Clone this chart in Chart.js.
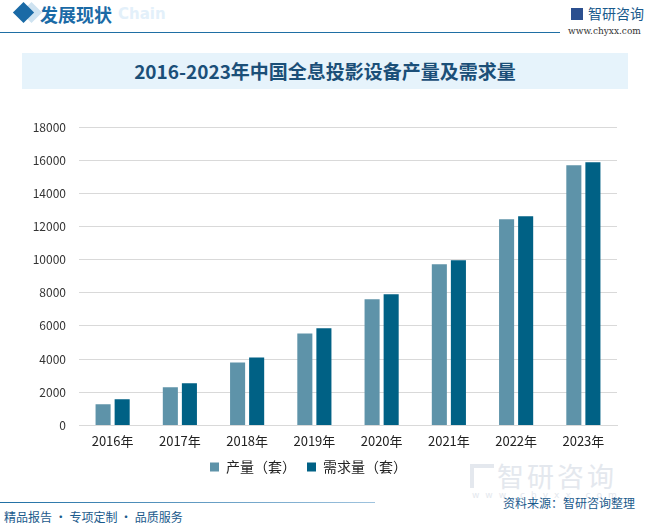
<!DOCTYPE html>
<html>
<head>
<meta charset="utf-8">
<script src="https://cdn.jsdelivr.net/npm/chart.js@4/dist/chart.umd.min.js"></script>
<style>
  body { margin: 0; width: 648px; height: 524px; background: #fff; position: relative; overflow: hidden;
         font-family: "Noto Sans CJK SC", "Noto Sans", sans-serif; }
  .abs { position: absolute; }
  #diamond { left: 16px; top: 5px; width: 15px; height: 15px; background: #1a6aa6; transform: rotate(45deg); }
  #diamond2 { left: 24px; top: 5px; width: 15px; height: 15px; background: #cfe3f1; transform: rotate(45deg); z-index: -1; }
  #head { left: 40px; top: 1px; font-size: 18px; font-weight: bold; color: #1a6aa6; }
  #headEn { left: 118px; top: 5px; font-size: 15px; font-weight: bold; color: #e3f0fa; font-family: "DejaVu Sans", sans-serif; }
  #topline { left: 0; top: 32px; width: 560px; height: 1px; background: #1f6fa4; }
  #logo { left: 571px; top: 3px; font-size: 14px; color: #1a5a8c; }
  #site { left: 568px; top: 26px; font-size: 9px; color: #333; font-family: "DejaVu Serif", serif; }
  #titleBand { left: 22px; top: 53px; width: 606px; height: 36px; background: #e6f3fb; }
  #title { left: 22px; top: 53px; width: 606px; line-height: 36px; text-align: center; font-size: 19px; font-weight: bold; color: #1b4f78; }
  #chartBox { left: 0; top: 100px; width: 648px; height: 384px; }
  #botline { left: 0; top: 502px; width: 375px; height: 1px; background: linear-gradient(to right, #1f6fa4, #9fc3de); }
  #source { left: 503px; top: 494px; font-size: 12px; color: #1a5a8c; }
  #slogan { left: 4px; top: 508px; font-size: 12px; color: #1a5a8c; }
  #wm { left: 497px; top: 456px; font-size: 27px; color: #e4e8ee; letter-spacing: 3px; }
  #wmIcon { left: 470px; top: 464px; width: 20px; height: 20px; border: 4px solid #e4e8ee; border-right: none; border-bottom: none; }
  #wm2 { left: 472px; top: 490px; font-size: 9px; color: #e4e8ee; letter-spacing: 6px; font-family: "DejaVu Sans", sans-serif; }
</style>
</head>
<body>
<div class="abs" id="diamond2"></div>
<div class="abs" id="diamond"></div>
<div class="abs" id="head">发展现状</div>
<div class="abs" id="headEn">Chain</div>
<div class="abs" id="topline"></div>
<div class="abs" id="logo"><span style="display:inline-block;width:12px;height:12px;background:#2b4f8f;margin-right:5px;vertical-align:-1px"></span>智研咨询</div>
<div class="abs" id="site">www.chyxx.com</div>
<div class="abs" id="titleBand"></div>
<div class="abs" id="title">2016-2023年中国全息投影设备产量及需求量</div>
<div class="abs" id="wmIcon"></div>
<div class="abs" id="wm">智研咨询</div>
<div class="abs" id="wm2">www.chyxx.com</div>
<div class="abs" id="chartBox"><canvas id="chart"></canvas></div>
<div class="abs" id="botline"></div>
<div class="abs" id="source">资料来源：智研咨询整理</div>
<div class="abs" id="slogan">精品报告 · 专项定制 · 品质服务</div>
<script>
var years = ['2016年', '2017年', '2018年', '2019年', '2020年', '2021年', '2022年', '2023年'];
var production = [1270, 2300, 3800, 5550, 7610, 9720, 12440, 15700];
var demand = [1570, 2540, 4100, 5860, 7910, 9960, 12620, 15880];
var seriesNames = ['产量（套）', '需求量（套）'];

drawChart();
function drawChart() {
    var ctx = document.getElementById('chart');
    Chart.defaults.font.family = '"Noto Sans CJK SC", "Noto Sans", sans-serif';
    Chart.defaults.color = '#333';
    new Chart(ctx, {
        type: 'bar',
        data: {
            labels: years,
            datasets: [{
                label: seriesNames[0],
                data: production,
                backgroundColor: '#5e93a9'
            }, {
                label: seriesNames[1],
                data: demand,
                backgroundColor: '#006185'
            }]
        },
        options: {
            responsive: true,
            maintainAspectRatio: false,
            animation: false,
            categoryPercentage: 0.567,
            barPercentage: 0.79,
            layout: { padding: { top: 27, right: 31, left: 0, bottom: 0 } },
            plugins: {
                legend: {
                    position: 'bottom',
                    labels: { boxWidth: 9, boxHeight: 9, font: { size: 14 }, padding: 11, color: '#222' }
                },
                tooltip: { enabled: false }
            },
            scales: {
                x: {
                    grid: { display: false },
                    border: { color: '#d9d9d9' },
                    ticks: { font: { size: 13 }, padding: 0, color: '#222' }
                },
                y: {
                    min: 0,
                    max: 18000,
                    ticks: {
                        stepSize: 2000, font: { size: 12 }, padding: 13, color: '#333',
                        callback: function (v) { return String(v); }
                    },
                    grid: { color: '#d9d9d9', drawTicks: false },
                    border: { display: false },
                    afterFit: function (scale) { scale.width = 79; }
                }
            }
        }
    });
}
</script>
</body>
</html>
